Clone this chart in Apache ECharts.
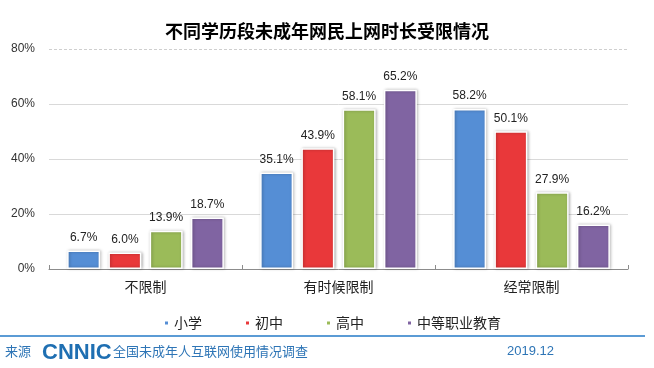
<!DOCTYPE html>
<html>
<head>
<meta charset="utf-8">
<script src="https://cdn.jsdelivr.net/npm/echarts@6/dist/echarts.min.js"></script>
<style>
html,body{margin:0;padding:0;background:#fff;}
#c{width:654px;height:368px;}
</style>
</head>
<body>
<div id="c"></div>
<script>
const categories = ['不限制', '有时候限制', '经常限制'];
const seriesNames = ['小学', '初中', '高中', '中等职业教育'];
const primary = [6.7, 35.1, 58.2];
const junior = [6.0, 43.9, 50.1];
const senior = [13.9, 58.1, 27.9];
const vocational = [18.7, 65.2, 16.2];
const colors = ['#558ED5', '#E9383A', '#9BBB59', '#8064A2'];
const yTicks = [0, 20, 40, 60, 80];

const values = [primary, junior, senior, vocational];
const cjk = '"Noto Sans CJK SC", "Liberation Sans", sans-serif';
const latin = '"Liberation Sans", Arial, sans-serif';

const chart = echarts.init(document.getElementById('c'), null, {renderer: 'canvas'});

const series = seriesNames.map((name, i) => {
  const s = {
    name: name,
    type: 'bar',
    data: values[i],
    barWidth: 33,
    barGap: '25%',
    itemStyle: {
      color: colors[i],
      borderColor: '#fff',
      borderWidth: 1.5,
      shadowColor: 'rgba(0,0,0,0.28)',
      shadowBlur: 3,
      shadowOffsetX: 1,
      shadowOffsetY: 0
    },
    label: {
      show: true,
      position: 'top',
      distance: 7,
      formatter: p => p.value.toFixed(1) + '%',
      fontSize: 12,
      fontFamily: latin,
      color: '#222'
    }
  };
  if (i === 0) {
    s.markLine = {
      silent: true,
      symbol: 'none',
      label: {show: false},
      lineStyle: {type: [3, 2], color: '#cfcfcf', width: 1},
      data: [{yAxis: yTicks[yTicks.length - 1]}]
    };
  }
  return s;
});

chart.setOption({
  animation: false,
  backgroundColor: '#fff',
  title: {
    text: '不同学历段未成年网民上网时长受限情况',
    left: 'center',
    top: 17,
    textStyle: {fontFamily: cjk, fontSize: 18, fontWeight: 'bold', color: '#000'}
  },
  legend: {
    data: seriesNames,
    left: 158,
    top: 311,
    icon: 'rect',
    itemWidth: 5,
    itemHeight: 5,
    itemGap: 42,
    textStyle: {fontFamily: cjk, fontSize: 14, color: '#222'}
  },
  grid: {left: 49, right: 26, top: 49, bottom: 99, containLabel: false},
  xAxis: {
    type: 'category',
    data: categories,
    axisLine: {lineStyle: {color: '#8c8c8c', width: 1}},
    axisTick: {show: true, inside: true, length: 4, alignWithLabel: false, lineStyle: {color: '#8c8c8c'}},
    axisLabel: {fontFamily: cjk, fontSize: 14, color: '#222', margin: 11}
  },
  yAxis: {
    type: 'value',
    min: 0,
    max: 80,
    interval: 20,
    axisLine: {show: false},
    axisTick: {show: false},
    axisLabel: {formatter: v => v + '%', fontFamily: latin, fontSize: 12, color: '#333', margin: 14},
    splitLine: {show: true, showMaxLine: false, lineStyle: {color: '#d9d9d9', width: 1}}
  },
  series: series,
  graphic: [
    {type: 'line', shape: {x1: 0, y1: 336, x2: 645, y2: 336}, style: {stroke: '#5B9BD5', lineWidth: 2}},
    {type: 'text', left: 5, top: 345, style: {text: '来源', font: '13px ' + cjk, fill: '#2E75B6'}},
    {type: 'text', left: 42, top: 342, style: {text: 'CNNIC', font: 'bold 22px ' + latin, fill: '#1F6FB2'}},
    {type: 'text', left: 113, top: 345, style: {text: '全国未成年人互联网使用情况调查', font: '13px ' + cjk, fill: '#2E75B6'}},
    {type: 'text', left: 507, top: 345, style: {text: '2019.12', font: '13px ' + latin, fill: '#2E75B6'}}
  ]
});
</script>
</body>
</html>
